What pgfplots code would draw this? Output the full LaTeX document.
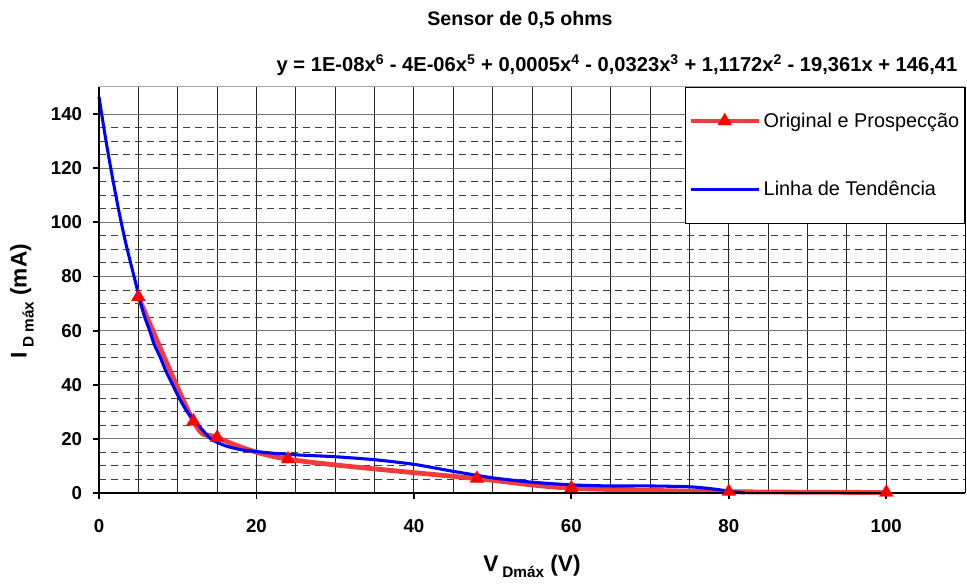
\documentclass[border=0pt]{standalone}
\usepackage{fontspec}
\setmainfont{Liberation Sans}
\usepackage{pgfplots}
\pgfplotsset{compat=1.18}
\definecolor{redline}{RGB}{240,60,60}
\definecolor{blueline}{RGB}{0,0,255}
\begin{document}
\begin{tikzpicture}
\path[use as bounding box] (0pt,0pt) rectangle (725.25pt,437.25pt);
\begin{axis}[
  at={(74.25pt,67.5pt)}, anchor=south west,
  scale only axis, width=649.5pt, height=304.5pt,
  xmin=0, xmax=110, ymin=0, ymax=150,
  xtick={0,20,...,100}, ytick={0,20,...,140},
  minor x tick num=3, minor y tick num=3,
  grid=both,
  major x grid style={black!85, line width=0.7pt},
  minor x grid style={black!85, line width=0.7pt},
  major y grid style={black!55, line width=0.8pt},
  minor y grid style={black!75, line width=0.7pt, dash pattern=on 5pt off 4pt},
  tick align=outside, major tick length=4.5pt, minor tick length=0pt,
  tick style={black, line width=1.4pt},
  xtick pos=bottom, ytick pos=left,
  axis line style={draw=none},
  /pgf/number format/assume math mode=true,
  ticklabel style={font=\fontsize{14}{16}\selectfont\bfseries},
  xticklabel style={anchor=center, yshift=-20pt},
  yticklabel style={anchor=east, inner sep=0pt, xshift=-8pt},
  clip=false,
  legend style={at={(1,1)}, anchor=north east, draw=black, line width=0.75pt,
    fill=white, inner xsep=2pt, inner ysep=17pt, row sep=35pt,
    font=\fontsize{14.9}{17}\selectfont, cells={anchor=west}},
  legend image code/.code={%
    \draw[#1, mark repeat=2, mark phase=2] plot coordinates {(0pt,0pt) (25.5pt,0pt) (51pt,0pt)};},
]
\addplot[color=redline, line width=3.6pt, smooth, tension=0.5,
  mark=triangle*, mark size=6pt, mark options={fill=red, draw=red, line width=0.1pt, solid}]
  coordinates {(5,72.5) (12,26.5) (15,20.5) (24,12.5) (48,5.3) (60,1.8) (80,0.5) (100,0.2)};
\addlegendentry{Original e Prospecção}
\addplot[color=blueline, line width=2.3pt, smooth, tension=0.4, no marks]
  coordinates {(0,146.4) (0.3,140.7) (0.9,129.9) (1.5,119.9) (2.05,111.3) (2.6,103.1)
  (3.4,92.3) (4.45,80) (4.9,74.8) (5.3,70) (5.8,65) (6.4,60.3) (7.0,55) (7.8,50)
  (8.5,45) (9.3,40.3) (10.2,35) (11.2,30) (12.5,25.5) (14.2,20) (16,17.5) (18,16)
  (20,15.3) (22.5,14.6) (25,14.1) (30,13.4) (35,12.3) (40,10.6) (45,8.0) (50,5.6)
  (55,4.0) (60,3.0) (65,2.6) (70,2.6) (75,2.3) (78,1.5) (80,0.7) (82,0)};
\addlegendentry{Linha de Tendência}
\draw[black!35, line width=0.75pt] (rel axis cs:0,1) -- (rel axis cs:1,1);
\draw[black, line width=0.75pt] (rel axis cs:1,0) -- (rel axis cs:1,1);
\draw[black, line width=2.2pt] (rel axis cs:0,1) -- (rel axis cs:0,0) -- (rel axis cs:1,0);
\end{axis}
\node[font=\fontsize{14.7}{16}\selectfont\bfseries] at (390pt,422.25pt) {Sensor de 0,5 ohms};
\node[anchor=east, font=\fontsize{15.1}{17}\selectfont\bfseries] at (721.5pt,388.5pt)
  {y = 1E-08x\textsuperscript{6} - 4E-06x\textsuperscript{5} + 0,0005x\textsuperscript{4} - 0,0323x\textsuperscript{3} + 1,1172x\textsuperscript{2} - 19,361x + 146,41};
\node[font=\fontsize{17}{19}\selectfont\bfseries] at (399pt,12.5pt)
  {V\,\raisebox{-0.3em}{\fontsize{11.5}{13}\selectfont Dmáx} (V)};
\node[rotate=90, font=\fontsize{17}{19}\selectfont\bfseries] at (16.5pt,211.5pt)
  {I\,\raisebox{-0.3em}{\fontsize{11.5}{13}\selectfont D máx} (mA)};
\end{tikzpicture}
\end{document}
